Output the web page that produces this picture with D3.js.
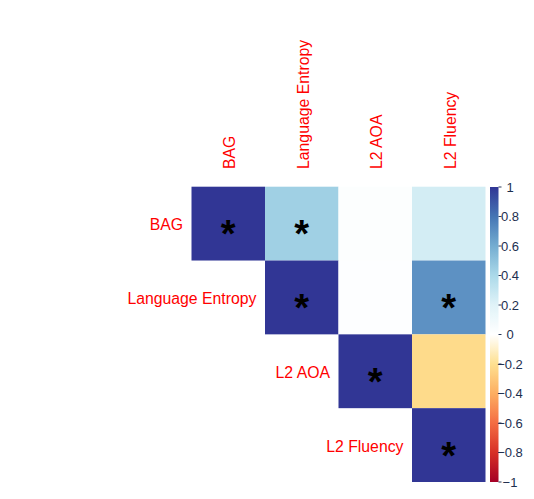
<!DOCTYPE html>
<html><head><meta charset="utf-8">
<script src="https://cdn.jsdelivr.net/npm/d3@7"></script>
<style>html,body{margin:0;padding:0;background:#fff;}</style>
</head><body>
<svg id="c" width="534" height="499"></svg>
<script>
const variables = ["BAG", "Language Entropy", "L2 AOA", "L2 Fluency"];
// upper-triangle correlations: [row, col, r, significant]
const rowIdx = [0, 0, 0, 0, 1, 1, 1, 2, 2, 3];
const colIdx = [0, 1, 2, 3, 1, 2, 3, 2, 3, 3];
const rValues = [1, 0.44, 0.02, 0.25, 1, 0.01, 0.70, 1, -0.22, 1];
const significant = [true, true, false, false, true, false, true, true, false, true];
const legendTicks = [1, 0.8, 0.6, 0.4, 0.2, 0, -0.2, -0.4, -0.6, -0.8, -1];
const paletteStops = ["#A50026","#D73027","#F46D43","#FDAE61","#FEE090","#FFFFFF","#E0F3F8","#ABD9E9","#74ADD1","#4575B4","#313695"];

const svg = d3.select("#c");
const color = d3.scaleLinear()
  .domain(d3.range(paletteStops.length).map(i => -1 + 2 * i / (paletteStops.length - 1)))
  .range(paletteStops)
  .interpolate(d3.interpolateRgb);

const x = d3.scaleBand().domain(d3.range(variables.length)).range([191.5, 485.5]);
const y = d3.scaleBand().domain(d3.range(variables.length)).range([186.7, 482]);

const cells = rValues.map((r, i) => ({row: rowIdx[i], col: colIdx[i], r, sig: significant[i]}));

svg.append("g").selectAll("rect").data(cells).join("rect")
  .attr("x", d => x(d.col))
  .attr("y", d => y(d.row))
  .attr("width", x.bandwidth())
  .attr("height", y.bandwidth())
  .attr("fill", d => color(d.r));

const starSize = 38;
svg.append("g").selectAll("text").data(cells.filter(d => d.sig)).join("text")
  .attr("x", d => x(d.col) + x.bandwidth() / 2)
  .attr("y", d => y(d.row) + y.bandwidth() / 2 + 2 + 0.57 * starSize)
  .attr("text-anchor", "middle")
  .attr("font-family", "Liberation Sans, Arial, sans-serif")
  .attr("font-weight", "bold")
  .attr("font-size", starSize)
  .attr("fill", "#000")
  .text("*");

const labelFont = "Liberation Sans, Arial, sans-serif";
// column labels
svg.append("g").selectAll("text").data(variables).join("text")
  .attr("transform", (d, i) => `translate(${x(i) + x.bandwidth() / 2 + 1.5},169) rotate(-90)`)
  .attr("dominant-baseline", "central")
  .attr("text-anchor", "start")
  .attr("font-family", labelFont)
  .attr("font-size", 15.8)
  .attr("fill", "#ff0000")
  .text(d => d);

// row labels (placed left of the diagonal cell)
svg.append("g").selectAll("text").data(variables).join("text")
  .attr("x", (d, i) => x(i) - 8.5)
  .attr("y", (d, i) => y(i) + y.bandwidth() / 2 + 1)
  .attr("dominant-baseline", "central")
  .attr("text-anchor", "end")
  .attr("font-family", labelFont)
  .attr("font-size", 15.8)
  .attr("fill", "#ff0000")
  .text(d => d);

// color legend
const ly = d3.scaleLinear().domain([-1, 1]).range([482, 187]);
const defs = svg.append("defs");
const grad = defs.append("linearGradient").attr("id", "lg")
  .attr("x1", 0).attr("y1", 1).attr("x2", 0).attr("y2", 0);
d3.range(0, 101).forEach(k => {
  const v = -1 + 2 * k / 100;
  grad.append("stop").attr("offset", k / 100).attr("stop-color", color(v));
});
svg.append("rect")
  .attr("x", 490).attr("y", ly(1))
  .attr("width", 8.5).attr("height", ly(-1) - ly(1))
  .attr("fill", "url(#lg)");
const lg = svg.append("g");
lg.selectAll("line").data(legendTicks).join("line")
  .attr("x1", 498.5).attr("x2", 501.5)
  .attr("y1", d => ly(d)).attr("y2", d => ly(d))
  .attr("stroke", "#2a3a5a").attr("stroke-width", 1);
lg.selectAll("text").data(legendTicks).join("text")
  .attr("x", 510)
  .attr("y", d => ly(d))
  .attr("dominant-baseline", "central")
  .attr("text-anchor", "middle")
  .attr("font-family", labelFont)
  .attr("font-size", 13)
  .attr("fill", "#1d2f4f")
  .text(d => d3.format("")(d));
</script>
</body></html>
